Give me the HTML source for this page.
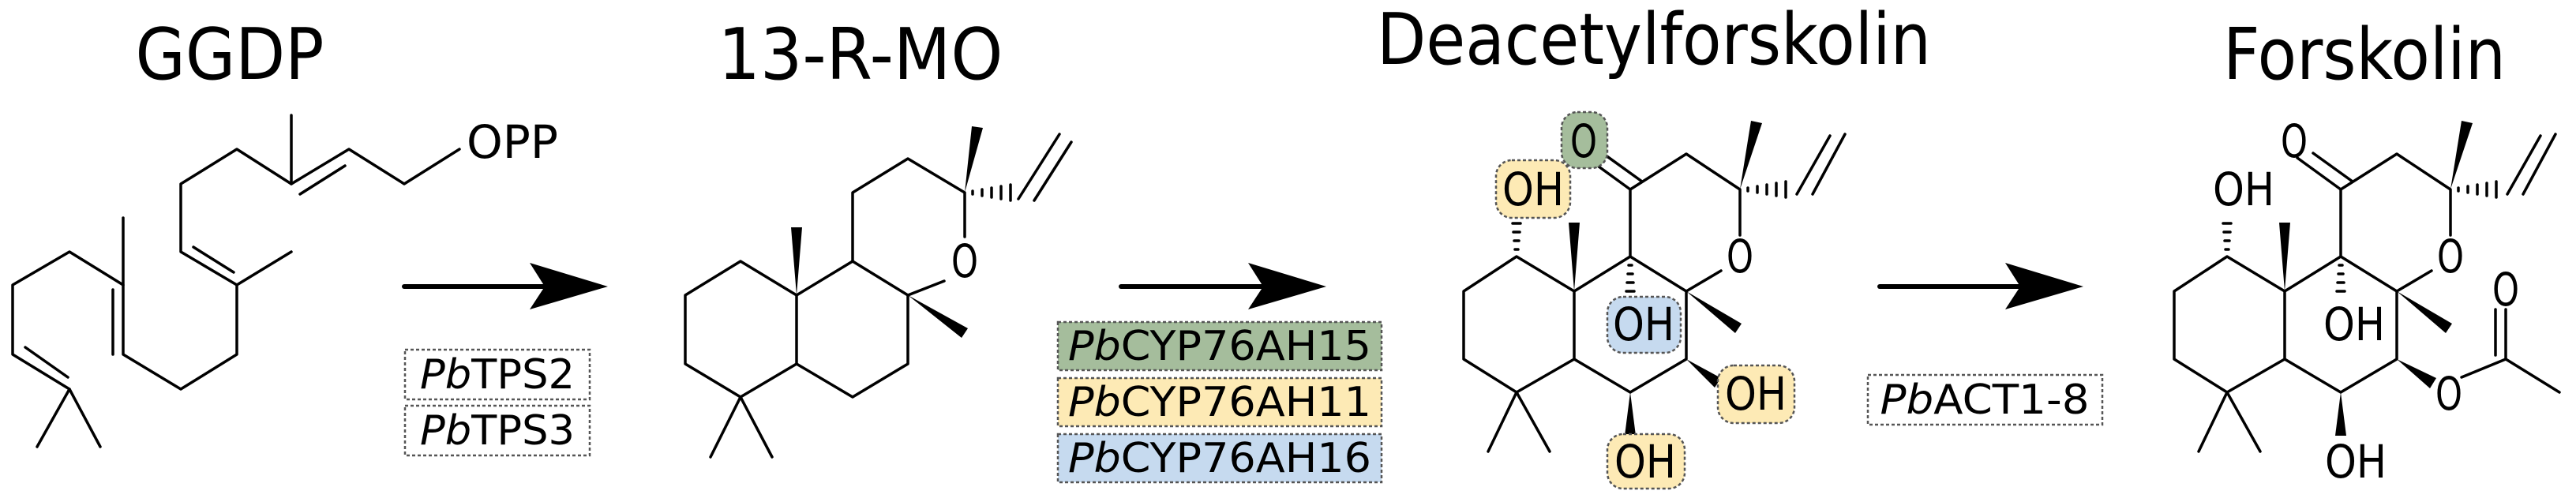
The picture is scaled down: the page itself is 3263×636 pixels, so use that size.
<!DOCTYPE html>
<html><head><meta charset="utf-8"><style>
html,body{margin:0;padding:0;background:#fff;}
svg{display:block}
text{font-family:"DejaVu Sans","Liberation Sans",sans-serif;fill:#000}
</style></head><body>
<svg width="3263" height="636" viewBox="0 0 3263 636" xmlns="http://www.w3.org/2000/svg">
<g stroke="#000" stroke-width="3.5" fill="none" stroke-linecap="round" stroke-linejoin="round">
<!-- GGDP -->
<polyline points="47,566 88,493 127,566"/>
<polyline points="88,493 16,449 16,361 88,319 156,361 156,449 229,493 300,449 300,361 229,319 229,233 300,189 369,233 442,189 512,233 582,189"/>
<line x1="156" y1="361" x2="156" y2="276"/>
<line x1="300" y1="361" x2="369" y2="319"/>
<line x1="369" y1="233" x2="369" y2="146"/>
<line x1="143" y1="367" x2="143" y2="449"/>
<line x1="245" y1="313" x2="296" y2="345"/>
<line x1="380" y1="246" x2="437" y2="210"/>
<line x1="32" y1="440" x2="86" y2="478"/>
<line x1="512" y1="363" x2="700" y2="363" stroke-width="6"/>
<line x1="1420" y1="363" x2="1610" y2="363" stroke-width="6"/>
<line x1="2381" y1="363" x2="2570" y2="363" stroke-width="6"/>
<!-- 13-R-MO -->
<polygon points="868,374 938,331 1009,374 1009,461 938,503 868,461"/>
<polyline points="1009,374 1080,331 1150,374 1150,461 1080,503 1009,461"/>
<polyline points="900,579 938,503 978,579"/>
<polyline points="1080,331 1080,244 1150,201 1222,244 1222,300"/>
<line x1="1196" y1="356" x2="1150" y2="374"/>
<line x1="1290" y1="252" x2="1342" y2="170"/>
<line x1="1310" y1="254" x2="1357" y2="180"/>
<g>
<polygon points="1854,369 1921,325 1994,369 1994,455 1921,497 1854,455"/>
<polyline points="1994,369 2065,325 2136,369 2136,455 2065,497 1994,455"/>
<polyline points="1885,572 1921,497 1963,572"/>
<polyline points="2065,325 2065,240 2136,195 2204,240 2204,298"/>
<line x1="2065" y1="240" x2="2010" y2="200"/>
<line x1="2080" y1="230" x2="2030" y2="194"/>
<line x1="2180" y1="343" x2="2136" y2="369"/>
<line x1="2296" y1="246" x2="2337" y2="170"/>
<line x1="2276" y1="246" x2="2318" y2="172"/>
<line x1="1919" y1="316" x2="1923" y2="316"/><line x1="1918" y1="305" x2="1924" y2="305"/><line x1="1917" y1="294" x2="1925" y2="294"/><line x1="1916" y1="283" x2="1926" y2="283"/>
<line x1="2063" y1="336" x2="2067" y2="336"/><line x1="2062" y1="347" x2="2068" y2="347"/><line x1="2061" y1="358" x2="2069" y2="358"/><line x1="2060" y1="369" x2="2070" y2="369"/>
<line x1="2214" y1="238" x2="2214" y2="242"/><line x1="2226" y1="236" x2="2226" y2="244"/><line x1="2238" y1="234" x2="2238" y2="246"/><line x1="2250" y1="232" x2="2250" y2="248"/><line x1="2262" y1="230" x2="2262" y2="250"/>
</g>
<g transform="translate(900,0)">
<polygon points="1854,369 1921,325 1994,369 1994,455 1921,497 1854,455"/>
<polyline points="1994,369 2065,325 2136,369 2136,455 2065,497 1994,455"/>
<polyline points="1885,572 1921,497 1963,572"/>
<polyline points="2065,325 2065,240 2136,195 2204,240 2204,298"/>
<line x1="2065" y1="240" x2="2010" y2="200"/>
<line x1="2080" y1="230" x2="2030" y2="194"/>
<line x1="2180" y1="343" x2="2136" y2="369"/>
<line x1="2296" y1="246" x2="2337" y2="170"/>
<line x1="2276" y1="246" x2="2318" y2="172"/>
<line x1="1919" y1="316" x2="1923" y2="316"/><line x1="1918" y1="305" x2="1924" y2="305"/><line x1="1917" y1="294" x2="1925" y2="294"/><line x1="1916" y1="283" x2="1926" y2="283"/>
<line x1="2063" y1="336" x2="2067" y2="336"/><line x1="2062" y1="347" x2="2068" y2="347"/><line x1="2061" y1="358" x2="2069" y2="358"/><line x1="2060" y1="369" x2="2070" y2="369"/>
<line x1="2214" y1="238" x2="2214" y2="242"/><line x1="2226" y1="236" x2="2226" y2="244"/><line x1="2238" y1="234" x2="2238" y2="246"/><line x1="2250" y1="232" x2="2250" y2="248"/><line x1="2262" y1="230" x2="2262" y2="250"/>
</g>
<polyline points="3118,478 3174,455 3242,497"/>
<line x1="3174" y1="455" x2="3174" y2="392"/>
<line x1="3161" y1="450" x2="3161" y2="392"/>
<line x1="1232" y1="242" x2="1232" y2="246"/><line x1="1244" y1="240" x2="1244" y2="248"/><line x1="1256" y1="238" x2="1256" y2="250"/><line x1="1268" y1="236" x2="1268" y2="252"/><line x1="1280" y1="234" x2="1280" y2="254"/>
</g>
<g fill="#000">
<polygon points="671,333 770,363 671,392 690,363"/>
<polygon points="1581,333 1680,363 1581,392 1600,363"/>
<polygon points="2540,333 2639,363 2540,392 2559,363"/>
<polygon points="1009,374 1002,288 1016,288"/>
<polygon points="1222,244 1231,160 1245,162"/>
<polygon points="1150,374 1218,428 1226,416"/>
<polygon points="1994,369 1987,282 2001,282"/>
<polygon points="2204,240 2218,153 2232,156"/>
<polygon points="2136,369 2198,422 2206,410"/>
<polygon points="2136,455 2172,491 2180,479"/>
<polygon points="2065,497 2058,552 2072,552"/>
<polygon points="2894,369 2887,282 2901,282"/>
<polygon points="3104,240 3118,153 3132,156"/>
<polygon points="3036,369 3098,422 3106,410"/>
<polygon points="3036,455 3078,492 3086,479"/>
<polygon points="2965,497 2958,552 2972,552"/>
</g>
<g stroke="#555" stroke-width="2.5" stroke-dasharray="4,3">
<rect x="513" y="443" width="234" height="63" fill="#fff"/>
<rect x="513" y="514" width="234" height="63" fill="#fff"/>
<rect x="1340" y="408" width="410" height="61" fill="#a5bd9c"/>
<rect x="1340" y="479" width="410" height="61" fill="#fdeab5"/>
<rect x="1340" y="550" width="410" height="61" fill="#c6daef"/>
<rect x="2366" y="475" width="297" height="63" fill="#fff"/>
<rect x="1978" y="142" width="58" height="71" rx="20" fill="#a5bd9c"/>
<rect x="1895" y="203" width="94" height="73" rx="20" fill="#fdeab5"/>
<rect x="2036" y="376" width="93" height="71" rx="20" fill="#c6daef"/>
<rect x="2176" y="463" width="97" height="73" rx="20" fill="#fdeab5"/>
<rect x="2036" y="550" width="98" height="69" rx="20" fill="#fdeab5"/>
</g>
<g font-size="90" text-anchor="middle">
<text x="291" y="100" textLength="239" lengthAdjust="spacingAndGlyphs">GGDP</text>
<text x="1090" y="100" textLength="361" lengthAdjust="spacingAndGlyphs">13-R-MO</text>
<text x="2095" y="81" textLength="702" lengthAdjust="spacingAndGlyphs">Deacetylforskolin</text>
<text x="2995" y="100" textLength="358" lengthAdjust="spacingAndGlyphs">Forskolin</text>
</g>
<g font-size="58" text-anchor="middle" dominant-baseline="central">
<text x="649" y="180" textLength="116" lengthAdjust="spacingAndGlyphs">OPP</text>
<rect x="1205" y="312" width="34" height="40" fill="#fff"/>
<text x="1222" y="331" textLength="34" lengthAdjust="spacingAndGlyphs">O</text>
<text x="2006" y="179" textLength="34" lengthAdjust="spacingAndGlyphs">O</text>
<text x="1942" y="240" textLength="78" lengthAdjust="spacingAndGlyphs">OH</text>
<text x="2082" y="411" textLength="78" lengthAdjust="spacingAndGlyphs">OH</text>
<text x="2204" y="325" textLength="34" lengthAdjust="spacingAndGlyphs">O</text>
<text x="2224" y="499" textLength="78" lengthAdjust="spacingAndGlyphs">OH</text>
<text x="2084" y="585" textLength="78" lengthAdjust="spacingAndGlyphs">OH</text>
<text x="2906" y="179" textLength="34" lengthAdjust="spacingAndGlyphs">O</text>
<text x="2842" y="240" textLength="78" lengthAdjust="spacingAndGlyphs">OH</text>
<text x="2982" y="411" textLength="78" lengthAdjust="spacingAndGlyphs">OH</text>
<text x="3104" y="325" textLength="34" lengthAdjust="spacingAndGlyphs">O</text>
<text x="3102" y="499" textLength="34" lengthAdjust="spacingAndGlyphs">O</text>
<text x="3174" y="367" textLength="34" lengthAdjust="spacingAndGlyphs">O</text>
<text x="2984" y="585" textLength="78" lengthAdjust="spacingAndGlyphs">OH</text>
</g>
<g font-size="52" text-anchor="middle" dominant-baseline="central">
<text x="630" y="475" textLength="196" lengthAdjust="spacingAndGlyphs"><tspan font-style="italic">Pb</tspan>TPS2</text>
<text x="630" y="546" textLength="196" lengthAdjust="spacingAndGlyphs"><tspan font-style="italic">Pb</tspan>TPS3</text>
<text x="1545" y="439" textLength="384" lengthAdjust="spacingAndGlyphs"><tspan font-style="italic">Pb</tspan>CYP76AH15</text>
<text x="1545" y="510" textLength="384" lengthAdjust="spacingAndGlyphs"><tspan font-style="italic">Pb</tspan>CYP76AH11</text>
<text x="1545" y="581" textLength="384" lengthAdjust="spacingAndGlyphs"><tspan font-style="italic">Pb</tspan>CYP76AH16</text>
<text x="2514" y="507" textLength="265" lengthAdjust="spacingAndGlyphs"><tspan font-style="italic">Pb</tspan>ACT1-8</text>
</g>
</svg>
</body></html>
